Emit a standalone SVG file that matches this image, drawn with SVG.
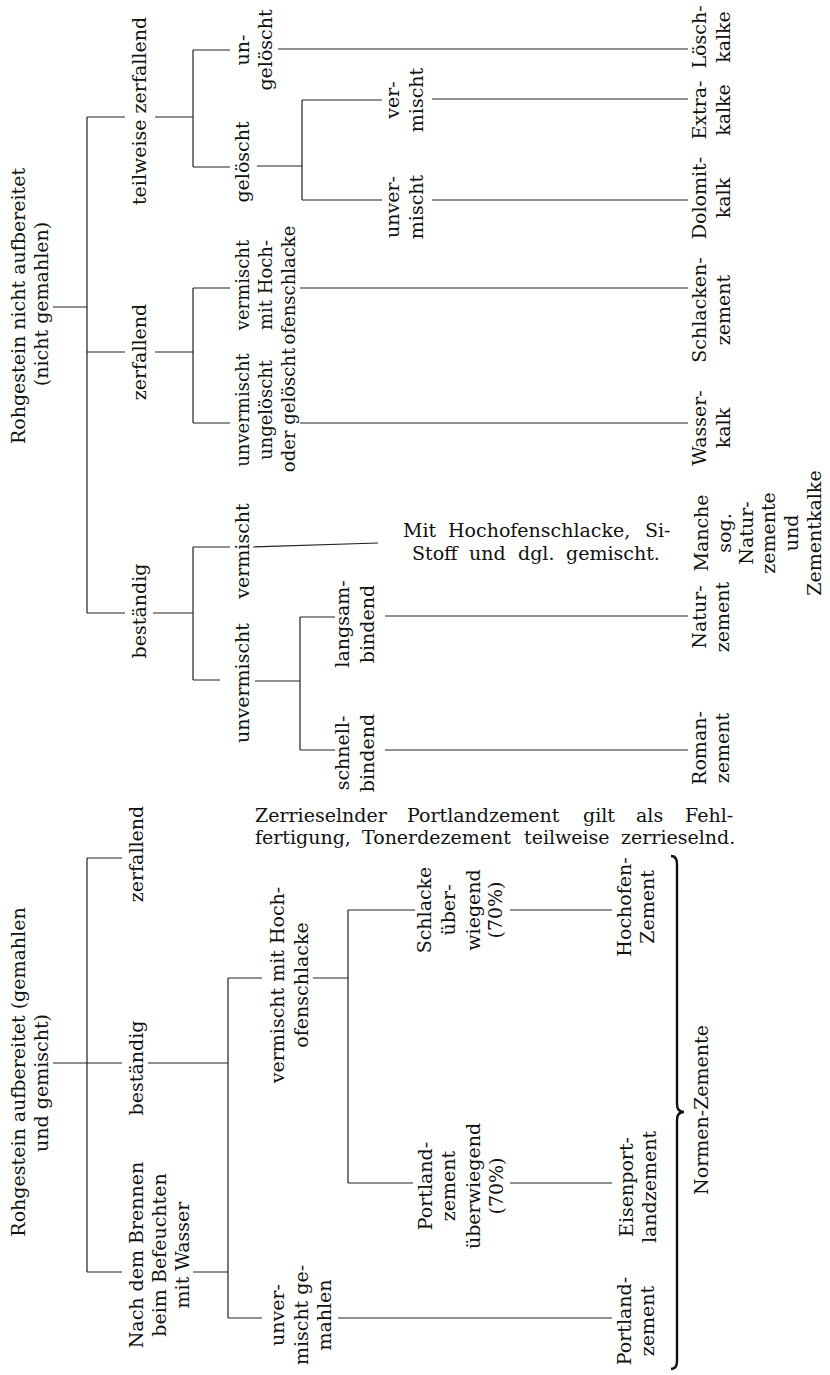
<svg xmlns="http://www.w3.org/2000/svg" width="830" height="1375" viewBox="0 0 830 1375">
<style>
.t{font-family:"DejaVu Serif","Liberation Serif",serif;font-size:19px;fill:#111;text-anchor:middle}
.s{font-size:18px}
.h{font-family:"DejaVu Serif","Liberation Serif",serif;font-size:19px;fill:#111}
.c{stroke:#222;stroke-width:1.2;fill:none}
.br{stroke:#111;stroke-width:2.4;fill:none}
</style>
<rect width="830" height="1375" fill="#fff"/>
<g id="connectors" class="c">
<path d="M53,307H87M87,117V613M87,117H125M155,117H193M87,352H125M155,352H193M87,613H125M153,613H193"/>
<path d="M193,50V167M193,50H230M278,49H688M193,167H230M257,166H302"/>
<path d="M302,100V200M302,100H382M432,99H688M302,200H382M432,200H688"/>
<path d="M193,288V423M193,288H230M300,288H688M193,423H230M300,423H688"/>
<path d="M193,547V680M193,547H230M253,547L378,543M193,680H220M255,681H300"/>
<path d="M300,617V750M300,617H335M385,616H688M300,750H335M385,750H688"/>
<path d="M53,1063H87M87,858V1272M87,858H122M87,1063H122M148,1063H228M87,1272H122M193,1272H228"/>
<path d="M228,978V1318M228,978H262M313,978H348M228,1318H262M338,1318H612"/>
<path d="M348,910V1183M348,910H415M510,910H612M348,1183H413M510,1183H612"/>
<path class="br" d="M671,856Q677,856 677,864V1104Q677,1112 684,1112Q677,1112 677,1120V1361Q677,1369 671,1369"/>
</g>
<g id="root_top"><text class="t" transform="translate(25,306) rotate(-90)"><tspan x="0" y="0">Rohgestein nicht aufbereitet</tspan><tspan x="2" y="23">(nicht gemahlen)</tspan></text></g>
<g id="teilweise"><text class="t" transform="translate(146,111) rotate(-90)">teilweise zerfallend</text></g>
<g id="zerfallend_top"><text class="t" transform="translate(146,352) rotate(-90)">zerfallend</text></g>
<g id="bestaendig_top"><text class="t" transform="translate(146,611) rotate(-90)">beständig</text></g>
<g id="ungeloescht"><text class="t" transform="translate(249,50) rotate(-90)"><tspan x="0" y="0">un-</tspan><tspan x="0" y="23">gelöscht</tspan></text></g>
<g id="geloescht"><text class="t" transform="translate(249,162) rotate(-90)">gelöscht</text></g>
<g id="vermischt_kalk"><text class="t" transform="translate(399,100) rotate(-90)"><tspan x="0" y="0">ver-</tspan><tspan x="0" y="24">mischt</tspan></text></g>
<g id="unvermischt_kalk"><text class="t" transform="translate(399,207) rotate(-90)"><tspan x="0" y="0">unver-</tspan><tspan x="0" y="24">mischt</tspan></text></g>
<g id="vermischt_hoch_top"><text class="t s" transform="translate(249,285) rotate(-90)"><tspan x="0" y="0">vermischt</tspan><tspan x="0" y="23">mit Hoch-</tspan><tspan x="0" y="46">ofenschlacke</tspan></text></g>
<g id="unverm_ungel"><text class="t s" transform="translate(249,410) rotate(-90)"><tspan x="0" y="0">unvermischt</tspan><tspan x="0" y="23">ungelöscht</tspan><tspan x="0" y="46">oder gelöscht</tspan></text></g>
<g id="vermischt_best"><text class="t" transform="translate(249,551) rotate(-90)">vermischt</text></g>
<g id="unvermischt_best"><text class="t" transform="translate(249,683) rotate(-90)">unvermischt</text></g>
<g id="langsam"><text class="t" transform="translate(349,624) rotate(-90)"><tspan x="0" y="0">langsam-</tspan><tspan x="0" y="25">bindend</tspan></text></g>
<g id="schnell"><text class="t" transform="translate(349,753) rotate(-90)"><tspan x="0" y="0">schnell-</tspan><tspan x="0" y="25">bindend</tspan></text></g>
<g id="loeschkalke"><text class="t" transform="translate(706,37) rotate(-90)"><tspan x="0" y="0">Lösch-</tspan><tspan x="0" y="24">kalke</tspan></text></g>
<g id="extrakalke"><text class="t" transform="translate(706,110) rotate(-90)"><tspan x="0" y="0">Extra-</tspan><tspan x="0" y="24">kalke</tspan></text></g>
<g id="dolomitkalk"><text class="t" transform="translate(706,198) rotate(-90)"><tspan x="0" y="0">Dolomit-</tspan><tspan x="0" y="24">kalk</tspan></text></g>
<g id="schlackenzement"><text class="t" transform="translate(706,310) rotate(-90)"><tspan x="0" y="0">Schlacken-</tspan><tspan x="0" y="24">zement</tspan></text></g>
<g id="wasserkalk"><text class="t" transform="translate(706,428) rotate(-90)"><tspan x="0" y="0">Wasser-</tspan><tspan x="0" y="24">kalk</tspan></text></g>
<g id="manche"><text class="t" transform="translate(708,533) rotate(-90)"><tspan x="0" y="0">Manche</tspan><tspan x="0" y="23">sog.</tspan><tspan x="0" y="45">Natur-</tspan><tspan x="0" y="67">zemente</tspan><tspan x="0" y="90">und</tspan><tspan x="0" y="113">Zementkalke</tspan></text></g>
<g id="naturzement"><text class="t" transform="translate(706,617) rotate(-90)"><tspan x="0" y="0">Natur-</tspan><tspan x="0" y="23">zement</tspan></text></g>
<g id="romanzement"><text class="t" transform="translate(706,748) rotate(-90)"><tspan x="0" y="0">Roman-</tspan><tspan x="0" y="23">zement</tspan></text></g>
<g id="note_mit"><text class="h" y="537"><tspan x="403">Mit</tspan><tspan x="448">Hochofenschlacke,</tspan><tspan x="645">Si-</tspan></text><text class="h" y="560"><tspan x="412">Stoff</tspan><tspan x="469">und</tspan><tspan x="518">dgl.</tspan><tspan x="566">gemischt.</tspan></text></g>
<g id="note_zerrieselnd"><text class="h" y="822"><tspan x="255">Zerrieselnder</tspan><tspan x="407">Portlandzement</tspan><tspan x="583">gilt</tspan><tspan x="636">als</tspan><tspan x="685">Fehl-</tspan></text><text class="h" y="844"><tspan x="255">fertigung,</tspan><tspan x="362">Tonerdezement</tspan><tspan x="524">teilweise</tspan><tspan x="621">zerrieselnd.</tspan></text></g>
<g id="root_bottom"><text class="t" transform="translate(25,1072) rotate(-90)"><tspan x="0" y="0">Rohgestein aufbereitet (gemahlen</tspan><tspan x="-11" y="23">und gemischt)</tspan></text></g>
<g id="zerfallend_bottom"><text class="t" transform="translate(143,854) rotate(-90)">zerfallend</text></g>
<g id="bestaendig_bottom"><text class="t" transform="translate(143,1068) rotate(-90)">beständig</text></g>
<g id="nach_brennen"><text class="t" transform="translate(143,1255) rotate(-90)"><tspan x="0" y="0">Nach dem Brennen</tspan><tspan x="0" y="23">beim Befeuchten</tspan><tspan x="0" y="46">mit Wasser</tspan></text></g>
<g id="vermischt_hoch_bottom"><text class="t" transform="translate(284,985) rotate(-90)"><tspan x="0" y="0">vermischt mit Hoch-</tspan><tspan x="0" y="24">ofenschlacke</tspan></text></g>
<g id="unvermischt_gemahlen"><text class="t" transform="translate(284,1315) rotate(-90)"><tspan x="0" y="0">unver-</tspan><tspan x="0" y="24">mischt ge-</tspan><tspan x="0" y="47">mahlen</tspan></text></g>
<g id="schlacke_ueberwiegend"><text class="t" transform="translate(431,910) rotate(-90)"><tspan x="0" y="0">Schlacke</tspan><tspan x="0" y="24">über-</tspan><tspan x="0" y="49">wiegend</tspan><tspan x="0" y="71">(70%)</tspan></text></g>
<g id="portland_ueberwiegend"><text class="t" transform="translate(432,1186) rotate(-90)"><tspan x="0" y="0">Portland-</tspan><tspan x="0" y="23">zement</tspan><tspan x="0" y="48">überwiegend</tspan><tspan x="0" y="71">(70%)</tspan></text></g>
<g id="hochofenzement"><text class="t" transform="translate(631,907) rotate(-90)"><tspan x="0" y="0">Hochofen-</tspan><tspan x="0" y="23">Zement</tspan></text></g>
<g id="eisenportlandzement"><text class="t" transform="translate(633,1187) rotate(-90)"><tspan x="0" y="0">Eisenport-</tspan><tspan x="0" y="23">landzement</tspan></text></g>
<g id="portlandzement"><text class="t" transform="translate(631,1321) rotate(-90)"><tspan x="0" y="0">Portland-</tspan><tspan x="0" y="23">zement</tspan></text></g>
<g id="normen_zemente"><text class="t" transform="translate(708,1110) rotate(-90)">Normen-Zemente</text></g>
</svg>
